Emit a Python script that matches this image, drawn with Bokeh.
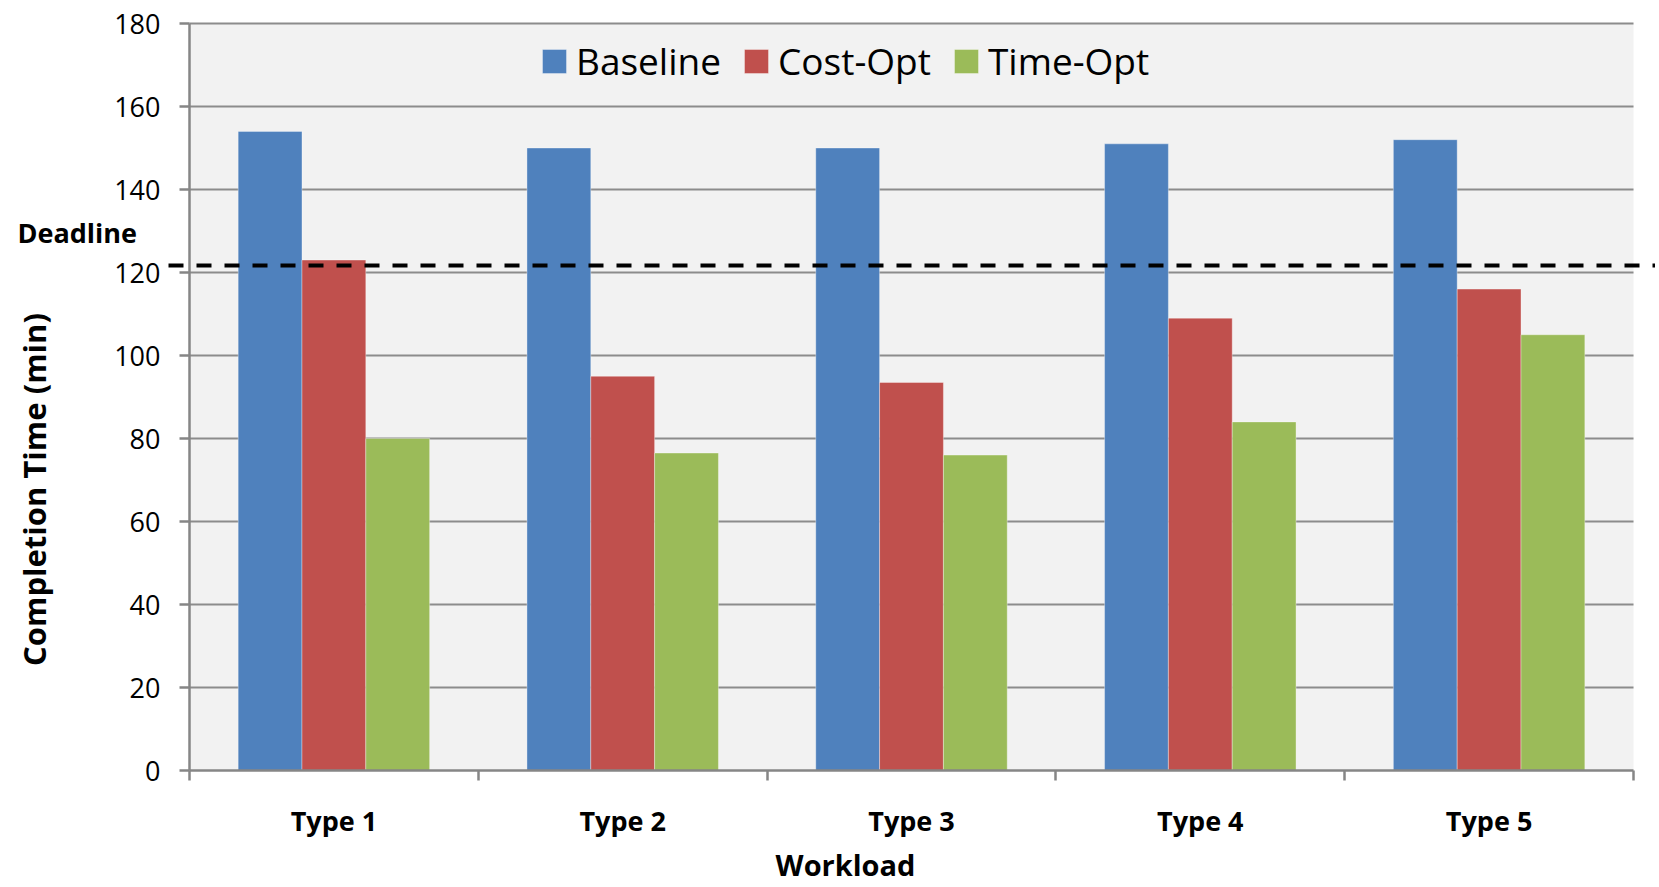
import math
from bokeh.plotting import figure
from bokeh.models import FixedTicker, Label, Legend, LegendItem, Range1d, LinearAxis
from bokeh.embed import file_html
from bokeh.resources import INLINE

# ---- data ----
categories = ["Type 1", "Type 2", "Type 3", "Type 4", "Type 5"]
series_names = ["Baseline", "Cost-Opt", "Time-Opt"]
baseline = [154, 150, 150, 151, 152]
cost_opt = [123, 95, 93.5, 109, 116]
time_opt = [80, 76.5, 76, 84, 105]
deadline = 121.7
y_ticks = [0, 20, 40, 60, 80, 100, 120, 140, 160, 180]
colors = ["#4F81BD", "#C0504D", "#9BBB59"]

# ---- layout (pixels on the canvas) ----
W, H = 1655, 885
LEFT_PX, RIGHT_PX, TOP_PX, BOTTOM_PX = 189, 1633, 23, 770

FONT = "Open Sans"
AXIS_GREY = "#868686"
GRID_GREY = "#8C8C8C"
BG_GREY = "#F2F2F2"

n = len(categories)
y_min, y_max = y_ticks[0], y_ticks[-1]
cat_px = (RIGHT_PX - LEFT_PX) / n
unit_px = (BOTTOM_PX - TOP_PX) / (y_max - y_min)

def xd(px):  # canvas x pixel -> data x
    return (px - LEFT_PX) / cat_px

def yd(px):  # canvas y pixel -> data y
    return (BOTTOM_PX - px) / unit_px

centers = [i + 0.5 for i in range(n)]
bar_w = 0.221

p = figure(width=W, height=H,
           x_range=Range1d(xd(0), xd(W)), y_range=Range1d(yd(H), yd(0)),
           x_axis_location=None, y_axis_location=None,
           output_backend="svg", toolbar_location=None, min_border=0)
p.background_fill_color = "white"
p.border_fill_color = "white"
p.outline_line_color = None
p.grid.visible = False

# plot-area background and gridlines
p.quad(left=0, right=n, bottom=y_min, top=y_max, fill_color=BG_GREY, line_color=None)
p.segment(x0=[0] * (len(y_ticks) - 1), x1=[n] * (len(y_ticks) - 1),
          y0=y_ticks[1:], y1=y_ticks[1:], line_color=GRID_GREY, line_width=2)

# bars
renderers = []
for k, (vals, col) in enumerate(zip([baseline, cost_opt, time_opt], colors)):
    xs = [c + (k - 1) * bar_w for c in centers]
    r = p.vbar(x=xs, top=vals, bottom=0, width=bar_w,
               fill_color=col, line_color="white", line_alpha=0.35, line_width=1)
    renderers.append(r)

# y axis
ya = LinearAxis(fixed_location=0, bounds=(y_min, y_max), ticker=FixedTicker(ticks=y_ticks))
ya.axis_line_color = AXIS_GREY
ya.axis_line_width = 2.5
ya.major_tick_line_color = AXIS_GREY
ya.major_tick_line_width = 2.5
ya.major_tick_out = 10
ya.major_tick_in = 0
ya.minor_tick_line_color = None
ya.major_label_text_font = FONT
ya.major_label_text_font_size = "27px"
ya.major_label_text_color = "black"
ya.major_label_standoff = 19
p.add_layout(ya, "left")

# x axis (labels at category centres, ticks at category boundaries)
xa = LinearAxis(fixed_location=0, bounds=(0, n),
                ticker=FixedTicker(ticks=centers, minor_ticks=list(range(n + 1))))
xa.major_label_overrides = {float(c): cat for c, cat in zip(centers, categories)}
xa.axis_line_color = AXIS_GREY
xa.axis_line_width = 2.5
xa.major_tick_line_color = None
xa.major_tick_out = 0
xa.major_tick_in = 0
xa.minor_tick_line_color = AXIS_GREY
xa.minor_tick_line_width = 2.5
xa.minor_tick_out = 10
xa.minor_tick_in = 0
xa.major_label_text_font = FONT
xa.major_label_text_font_style = "bold"
xa.major_label_text_font_size = "27px"
xa.major_label_text_color = "black"
xa.major_label_standoff = 21
p.add_layout(xa, "below")

# deadline dashed line
p.segment(x0=[xd(168)], x1=[xd(W)], y0=[deadline], y1=[deadline],
          line_color="black", line_width=4, line_dash="15 13")
p.add_layout(Label(x=xd(17), y=deadline, y_offset=33,
                   text="Deadline", text_font=FONT, text_font_style="bold",
                   text_font_size="27px", text_color="black",
                   text_align="left", text_baseline="middle"))

# axis titles
p.add_layout(Label(x=xd(33), y=yd(489), angle=math.pi / 2,
                   text="Completion Time (min)", text_font=FONT, text_font_style="bold",
                   text_font_size="31px", text_color="black",
                   text_align="center", text_baseline="middle"))
p.add_layout(Label(x=xd(845), y=yd(864),
                   text="Workload", text_font=FONT, text_font_style="bold",
                   text_font_size="29px", text_color="black",
                   text_align="center", text_baseline="middle"))

# legend
legend = Legend(items=[LegendItem(label=nm, renderers=[r]) for nm, r in zip(series_names, renderers)],
                orientation="horizontal", location=(539, H - 86),
                glyph_width=30, glyph_height=30, label_standoff=7, spacing=20,
                padding=0, margin=0, border_line_color=None, background_fill_alpha=0,
                label_text_font=FONT, label_text_font_size="37px", label_text_color="black")
p.add_layout(legend, "center")

open("out.html", "w").write(file_html(p, INLINE))
